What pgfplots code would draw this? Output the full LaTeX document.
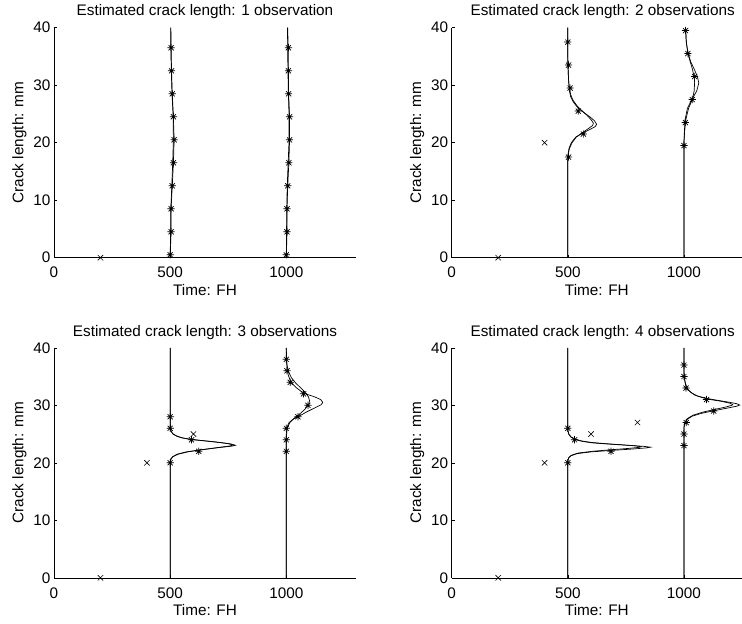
\documentclass[border=0pt]{standalone}
\usepackage{fontspec}
\setmainfont{Liberation Sans}
\usepackage{pgfplots}
\pgfplotsset{compat=1.18}
\pgfdeclareplotmark{mstar}{%
  \pgfpathmoveto{\pgfqpoint{0pt}{-\pgfplotmarksize}}\pgfpathlineto{\pgfqpoint{0pt}{\pgfplotmarksize}}%
  \pgfpathmoveto{\pgfqpoint{-\pgfplotmarksize}{0pt}}\pgfpathlineto{\pgfqpoint{\pgfplotmarksize}{0pt}}%
  \pgfpathmoveto{\pgfqpoint{-.7071\pgfplotmarksize}{-.7071\pgfplotmarksize}}\pgfpathlineto{\pgfqpoint{.7071\pgfplotmarksize}{.7071\pgfplotmarksize}}%
  \pgfpathmoveto{\pgfqpoint{-.7071\pgfplotmarksize}{.7071\pgfplotmarksize}}\pgfpathlineto{\pgfqpoint{.7071\pgfplotmarksize}{-.7071\pgfplotmarksize}}%
  \pgfusepathqstroke}
\pgfplotsset{
  crackax/.style={
    scale only axis, height=230pt,
    xmin=0, ymin=0, ymax=40,
    axis x line*=bottom, axis y line*=left,
    axis line style={-, black, line width=0.5pt},
    xtick={0,500,1000}, ytick={0,10,20,30,40},
    tick align=inside, major tick length=3pt,
    tick style={black, line width=0.5pt},
    /pgf/number format/assume math mode=true,
    /pgf/number format/set thousands separator={},
    font=\fontsize{15.3}{18}\selectfont,
    tick label style={font=\fontsize{15.3}{18}\selectfont},
    xticklabel style={yshift=-6pt},
    xlabel style={yshift=1pt},
    xlabel={Time: FH}, ylabel={Crack length: mm},
    title style={yshift=-1pt},
    clip=false,
  },
  leftax/.style={crackax, width=302pt, xmax=1300},
  rightax/.style={crackax, width=290.3pt, xmax=1250, title style={at={(axis description cs:0.52,1)}}},
  est/.style={no marks, black, line width=0.7pt},
  obs/.style={only marks, mark=x, mark size=3.8pt, black, mark options={line width=0.6pt}},
  smp/.style={only marks, mark=mstar, mark size=3.6pt, black, mark options={line width=0.7pt}},
}
\begin{document}
\begin{tikzpicture}
% ---------- Panel 1 ----------
\begin{axis}[leftax, at={(54pt,-257.7pt)}, anchor=south west,
  title={Estimated crack length: 1 observation}]
\addplot[est] coordinates {(500,0)(504,4.5)(504,8.5)(509,12.5)(514,16.5)(517,20.5)(514,24.5)(509,28.5)(506,32.5)(504,36.5)(503,40)};
\addplot[est] coordinates {(500,0)(502,4.5)(503,8.5)(507,12.5)(511,16.5)(514,20.5)(513,24.5)(508,28.5)(505,32.5)(503,36.5)(502,40)};
\addplot[est] coordinates {(1000,0)(1003,4.5)(1003,8.5)(1006,12.5)(1011,16.5)(1014,20.5)(1014,24.5)(1010,28.5)(1009,32.5)(1008,36.5)(1006,40)};
\addplot[est] coordinates {(1000,0)(1001,4.5)(1002,8.5)(1004,12.5)(1008,16.5)(1012,20.5)(1012,24.5)(1009,28.5)(1007,32.5)(1006,36.5)(1005,40)};
\addplot[smp] coordinates {(500,0.5)(504,4.5)(504,8.5)(509,12.5)(514,16.5)(517,20.5)(514,24.5)(509,28.5)(506,32.5)(504,36.5)};
\addplot[smp] coordinates {(1000,0.5)(1003,4.5)(1003,8.5)(1006,12.5)(1011,16.5)(1014,20.5)(1014,24.5)(1010,28.5)(1009,32.5)(1009,36.5)};
\addplot[obs] coordinates {(200,0)};
\end{axis}
% ---------- Panel 2 ----------
\begin{axis}[rightax, at={(451.7pt,-257.7pt)}, anchor=south west,
  title={Estimated crack length: 2 observations}]
\addplot[est] coordinates {(500,0)(500,17)(501,18)(505,19)(515,20)(535,21)(565,21.7)(595,22.3)(618,22.8)(624,23.2)(615,23.8)(595,24.5)(570,25.2)(545,26)(525,27)(512,28)(507,29)(505,30)(503,31)(501,33)(500,35)(500,40)};
\addplot[est] coordinates {(500,0)(500,17)(502,18)(507,19)(518,20)(537,21)(565,21.8)(590,22.5)(607,23)(610,23.4)(600,24)(582,24.8)(560,25.6)(540,26.4)(522,27.4)(512,28.4)(507,29.5)(504,30.5)(502,32)(500,34)(500,40)};
\addplot[est] coordinates {(1000,0)(1000,20)(1002,22)(1005,24)(1015,26)(1034,27.5)(1055,29)(1064,30.4)(1058,31.5)(1044,32.8)(1030,34)(1018,35.5)(1010,37.5)(1007,40)};
\addplot[est] coordinates {(1000,0)(1000,20)(1003,22)(1008,24)(1020,26)(1036,27.5)(1044,29)(1046,30.5)(1044,31.5)(1035,33)(1024,34.5)(1017,35.5)(1010,37.5)(1007,40)};
\addplot[smp] coordinates {(503,17.5)(567,21.5)(545,25.5)(510,29.5)(503,33.5)(500,37.5)};
\addplot[smp] coordinates {(1000,19.5)(1006,23.5)(1036,27.5)(1046,31.5)(1017,35.5)(1007,39.5)};
\addplot[obs] coordinates {(200,0)(400,20)};
\end{axis}
% ---------- Panel 3 ----------
\begin{axis}[leftax, at={(54pt,-577.8pt)}, anchor=south west,
  title={Estimated crack length: 3 observations}]
\addplot[est] coordinates {(500,0)(500,20)(502,20.5)(510,21)(530,21.5)(570,21.9)(623,22.2)(700,22.6)(765,22.9)(781,23.05)(760,23.3)(700,23.6)(640,23.85)(592,24.05)(555,24.3)(530,24.6)(512,25)(504,25.5)(501,26)(500,27)(500,40)};
\addplot[est] coordinates {(500,0)(500,20.2)(503,20.7)(512,21.1)(535,21.5)(575,21.9)(630,22.25)(705,22.65)(760,22.95)(770,23.1)(748,23.35)(690,23.65)(630,23.9)(585,24.1)(550,24.35)(526,24.7)(510,25.1)(503,25.6)(500,26.2)(500,40)};
\addplot[est] coordinates {(1000,0)(1000,25)(1003,26.2)(1012,27)(1030,27.6)(1055,28.1)(1085,28.8)(1120,29.5)(1150,30.1)(1157,30.5)(1148,31)(1120,31.5)(1090,31.9)(1065,32.4)(1045,33)(1030,33.6)(1017,34.3)(1008,35.3)(1003,36.5)(1001,38)(1000,40)};
\addplot[est] coordinates {(1000,0)(1000,24.5)(1004,26)(1015,27)(1035,27.8)(1055,28.4)(1080,29.3)(1097,30.2)(1100,30.8)(1095,31.5)(1080,32.3)(1060,33.1)(1040,33.9)(1022,34.8)(1010,35.8)(1003,37)(1000,38.5)(1000,40)};
\addplot[smp] coordinates {(500,20)(623,22)(592,24)(500,26)(500,28)};
\addplot[smp] coordinates {(1000,22)(1000,24)(1000,26)(1050,28)(1093,30)(1074,32)(1017,34)(1003,36)(1000,38)};
\addplot[obs] coordinates {(200,0)(400,20)(600,25)};
\end{axis}
% ---------- Panel 4 ----------
\begin{axis}[rightax, at={(451.7pt,-577.8pt)}, anchor=south west,
  title={Estimated crack length: 4 observations}]
\addplot[est] coordinates {(500,0)(500,20.3)(503,20.8)(512,21.2)(540,21.6)(600,21.9)(686,22.15)(780,22.4)(840,22.6)(856,22.72)(830,22.85)(760,23.05)(680,23.25)(610,23.45)(565,23.7)(535,24)(515,24.4)(505,24.9)(501,25.5)(500,26.5)(500,40)};
\addplot[est] coordinates {(500,0)(500,20.4)(504,20.9)(515,21.3)(545,21.7)(605,22)(680,22.25)(760,22.5)(810,22.7)(815,22.8)(790,22.95)(725,23.15)(655,23.35)(600,23.55)(560,23.8)(532,24.1)(514,24.5)(504,25)(500,25.6)(500,40)};
\addplot[est] coordinates {(1000,0)(1000,26)(1003,26.8)(1012,27.5)(1035,28.1)(1075,28.6)(1128,29.05)(1185,29.5)(1228,29.85)(1240,30.05)(1225,30.3)(1185,30.6)(1140,30.9)(1097,31.2)(1060,31.6)(1035,32.1)(1018,32.7)(1008,33.5)(1003,34.5)(1000,36)(1000,40)};
\addplot[est] coordinates {(1000,0)(1000,26.2)(1004,27)(1015,27.7)(1040,28.3)(1085,28.85)(1135,29.3)(1180,29.7)(1206,30)(1210,30.15)(1195,30.4)(1160,30.7)(1115,31)(1078,31.35)(1048,31.75)(1028,32.3)(1014,32.9)(1006,33.7)(1002,34.7)(1000,36)(1000,40)};
\addplot[smp] coordinates {(500,20)(686,22)(529,24)(500,26)};
\addplot[smp] coordinates {(1000,23)(1000,25)(1010,27)(1128,29)(1097,31)(1009,33)(1000,35)(1000,37)};
\addplot[obs] coordinates {(200,0)(400,20)(600,25)(800,27)};
\end{axis}
\pgfresetboundingbox
\path[use as bounding box] (0pt,0pt) rectangle (742pt,-624pt);
\end{tikzpicture}
\end{document}
